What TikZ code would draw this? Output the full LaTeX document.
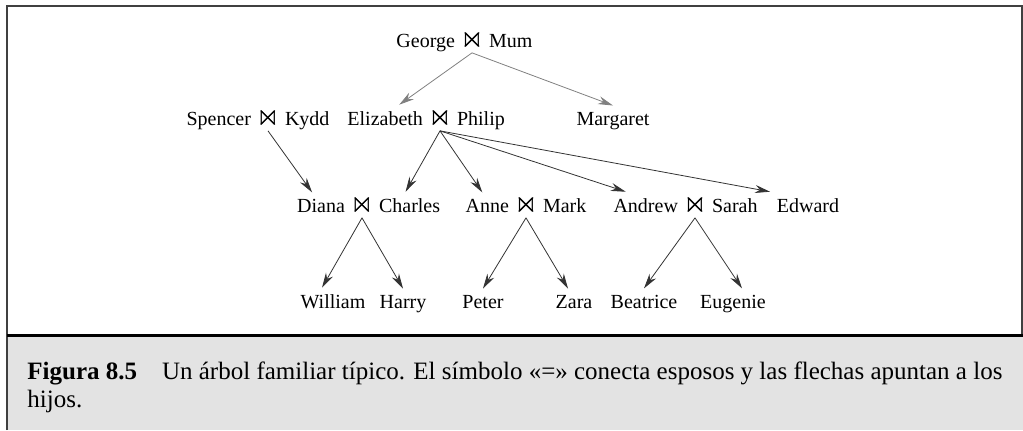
\documentclass[tikz,border=0pt]{standalone}
\usepackage{amssymb}
\usepackage{fontspec}
\setmainfont{Liberation Serif}
\usetikzlibrary{positioning,arrows.meta}

\newcommand{\union}{\scalebox{1.5}{$\Join$}}

\begin{document}
\begin{tikzpicture}[x=0.5pt,y=-0.5pt,font=\fontsize{10}{12}\selectfont,
    >={Stealth[length=7.5pt,width=4pt]},
    couple/.style={anchor=base,inner xsep=2.2pt,inner ysep=1.5pt},
    person/.style={inner xsep=0pt,inner ysep=3pt},
    child/.style={->,black!80,line width=0.4pt},
    faint/.style={->,black!50,line width=0.4pt}]
    \useasboundingbox (0,0) rectangle (1023,430);

    % Marco y pie de figura.
    \fill[black!11] (7,336) rectangle (1023,430);
    \draw[black!75,line width=0.6pt] (7,430) -- (7,6) -- (1022,6) -- (1022,336);
    \draw[line width=1.8pt] (7,335.5) -- (1023,335.5);
    \node[anchor=north west,align=left,inner sep=0pt,
        font=\fontsize{12.5}{14}\selectfont] (cap) at (27,361)
        {\textbf{Figura 8.5}\quad Un árbol familiar típico. El símbolo «=» conecta esposos y las flechas apuntan a los\\hijos.};

    % Parejas: el símbolo de unión queda en el centro.
    \node[couple] (gm) at (472,47) {\union};
    \node[person,base left=0pt of gm] (george) {George};
    \node[person,base right=0pt of gm] (mum) {Mum};

    \node[couple] (sk) at (268,125) {\union};
    \node[person,base left=0pt of sk] (spencer) {Spencer};
    \node[person,base right=0pt of sk] (kydd) {Kydd};

    \node[couple] (ep) at (440,125) {\union};
    \node[person,base left=0pt of ep] (elizabeth) {Elizabeth};
    \node[person,base right=0pt of ep] (philip) {Philip};
    \node[person,anchor=base] (margaret) at (613,125) {Margaret};

    \node[couple] (dc) at (362,212) {\union};
    \node[person,base left=0pt of dc] (diana) {Diana};
    \node[person,base right=0pt of dc] (charles) {Charles};

    \node[couple] (am) at (526,212) {\union};
    \node[person,base left=0pt of am] (anne) {Anne};
    \node[person,base right=0pt of am] (mark) {Mark};

    \node[couple] (as) at (695,212) {\union};
    \node[person,base left=0pt of as] (andrew) {Andrew};
    \node[person,base right=0pt of as] (sarah) {Sarah};
    \node[person,anchor=base] (edward) at (808,212) {Edward};

    % Nietos.
    \foreach \n/\t/\xx in {william/William/333,harry/Harry/403,peter/Peter/483,
        zara/Zara/574,beatrice/Beatrice/644,eugenie/Eugenie/733}{
        \node[person,anchor=base] (\n) at (\xx,308) {\t};
    }

    % Flechas hacia los hijos.
    \draw[faint] (gm.south) -- ([xshift=7pt]elizabeth.north);
    \draw[faint] (gm.south) -- (margaret.north);
    \draw[child] (sk.south) -- ([xshift=-4.5pt]diana.north);
    \foreach \c/\dx in {charles/-2pt,anne/-2.5pt,andrew/-10pt,edward/-19pt}{
        \draw[child] (ep.south) -- ([xshift=\dx]\c.north);
    }
    \foreach \p/\c/\dx in {dc/william/-5.5pt,dc/harry/0pt,am/peter/0pt,
        am/zara/-3pt,as/beatrice/0pt,as/eugenie/4.5pt}{
        \draw[child] (\p.south) -- ([xshift=\dx]\c.north);
    }
\end{tikzpicture}
\end{document}
